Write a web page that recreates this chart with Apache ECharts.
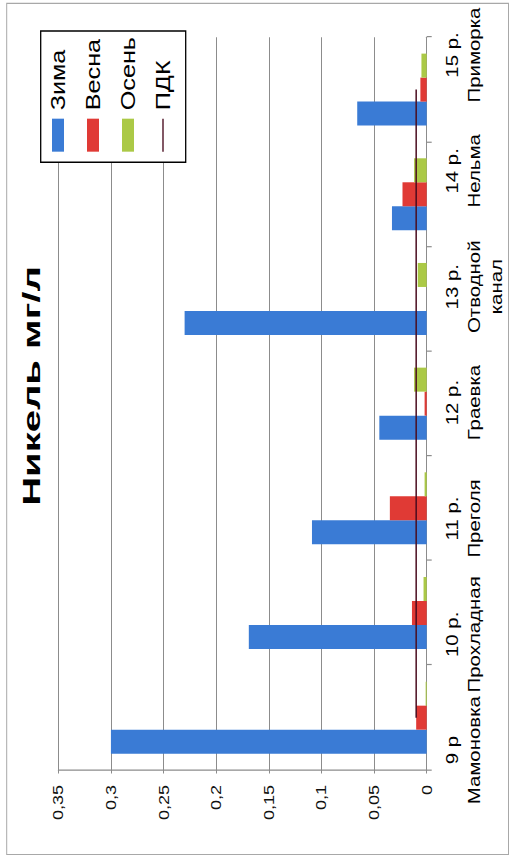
<!DOCTYPE html>
<html>
<head>
<meta charset="utf-8">
<script src="https://cdn.jsdelivr.net/npm/echarts@6/dist/echarts.min.js"></script>
<style>
  html, body { margin: 0; padding: 0; background: #fff; width: 512px; height: 856px; overflow: hidden; }
  /* The chart is laid out landscape, then turned on its side and widened along its own x axis */
  #frame {
    position: absolute; left: 0; top: 0;
    width: 713px; height: 512px;
    transform-origin: 0 0;
    transform: translate(0px, 856px) rotate(-90deg) scaleX(1.2006);
  }
</style>
</head>
<body>
<div id="frame"></div>
<script>
// Sampling stations (two- or three-line axis captions)
const categories = [
  '9 р\nМамоновка',
  '10 р.\nПрохладная',
  '11 р.\nПреголя',
  '12 р.\nГраевка',
  '13 р.\nОтводной\nканал',
  '14 р.\nНельма',
  '15 р.\nПриморка'
];

// Nickel concentration, mg/l
const winter = [0.300, 0.169, 0.109, 0.045, 0.230, 0.033, 0.066];
const spring = [0.010, 0.014, 0.035, 0.002, 0.000, 0.023, 0.006];
const autumn = [0.001, 0.003, 0.002, 0.012, 0.0085, 0.012, 0.005];
const pdk    = [0.01, 0.01, 0.01, 0.01, 0.01, 0.01, 0.01];

const seriesNames = ['Зима', 'Весна', 'Осень', 'ПДК'];
const valueMax = 0.35;
const valueStep = 0.05;

// Horizontal stretch applied by CSS; layout numbers below are given in the stretched frame
const W = 713, H = 512;
const S = 856 / W;
const ux = X => X / S;

const FONT = '"Liberation Sans", Arial, sans-serif';
const GRID_COLOR = '#8c8c8c';
const PDK_COLOR = '#4a0d1f';

const chart = echarts.init(document.getElementById('frame'), null, { renderer: 'svg', width: W, height: H });

const plot = { left: ux(86), right: W - ux(818.7), top: 58.3, bottom: H - 426.7 };
const captions = { left: ux(105.8), right: W - ux(801), top: 58.3, bottom: H - 426.7 };

chart.setOption({
  animation: false,
  backgroundColor: '#fff',
  textStyle: { fontFamily: FONT },
  grid: [
    Object.assign({ containLabel: false }, plot),
    Object.assign({ containLabel: false }, captions)
  ],
  xAxis: [
    {
      type: 'category', gridIndex: 0, data: categories,
      axisLine: { lineStyle: { color: GRID_COLOR, width: 1 } },
      axisTick: { show: true, interval: 0, length: 5, lineStyle: { color: GRID_COLOR } },
      axisLabel: { show: false },
      splitLine: { show: false }
    },
    {
      type: 'category', gridIndex: 1, data: categories, boundaryGap: false,
      axisLine: { show: false },
      axisTick: { show: false },
      splitLine: { show: false },
      axisLabel: {
        interval: 0, margin: 14, color: '#000',
        fontFamily: FONT, fontSize: 17, lineHeight: 22, align: 'center'
      }
    }
  ],
  yAxis: [
    {
      type: 'value', gridIndex: 0, min: 0, max: valueMax, interval: valueStep,
      axisLine: { show: true, lineStyle: { color: GRID_COLOR, width: 1 } },
      axisTick: { show: true, length: 3, lineStyle: { color: GRID_COLOR } },
      splitLine: { show: true, lineStyle: { color: GRID_COLOR, width: 1 } },
      axisLabel: {
        margin: ux(15), color: '#111', fontFamily: FONT, fontSize: 15,
        formatter: v => String(+v.toFixed(2)).replace('.', ',')
      }
    },
    { type: 'value', gridIndex: 1, min: 0, max: valueMax, show: false }
  ],
  legend: {
    orient: 'vertical',
    left: ux(704.3), top: 47.5,
    padding: 0,
    itemWidth: ux(33), itemHeight: 12, itemGap: 14,
    textStyle: { fontFamily: FONT, fontSize: 21, lineHeight: 21, color: '#000', padding: [0, 0, 0, 2] },
    data: [
      { name: seriesNames[0], icon: 'rect' },
      { name: seriesNames[1], icon: 'rect' },
      { name: seriesNames[2], icon: 'rect' },
      // thin bar standing in for the limit line
      { name: seriesNames[3], icon: 'path://M0,0H100V5H0Z' }
    ]
  },
  graphic: [
    {
      type: 'rect', silent: true, z: -10,
      shape: { x: ux(1.5), y: 6.7, width: ux(852.5) - ux(1.5), height: 508.5 - 6.7 },
      style: { fill: 'none', stroke: '#a8a8a8', lineWidth: 1 }
    },
    {
      type: 'rect', silent: true, z: 3,
      shape: { x: ux(693.7), y: 40.7, width: ux(825) - ux(693.7), height: 145 },
      style: { fill: '#fff', stroke: '#000', lineWidth: 1.3 }
    },
    {
      type: 'text', silent: true, z: 5,
      x: ux(470), y: 31.7, scaleX: 1.45,
      style: {
        text: 'Никель мг/л', fill: '#000',
        font: 'bold 23px "Liberation Sans", Arial, sans-serif',
        align: 'center', verticalAlign: 'middle'
      }
    }
  ],
  series: [
    {
      name: seriesNames[0], type: 'bar', xAxisIndex: 0, yAxisIndex: 0,
      data: winter, barWidth: ux(24), barGap: '0%',
      itemStyle: { color: '#3a7bd5' }
    },
    {
      name: seriesNames[1], type: 'bar', xAxisIndex: 0, yAxisIndex: 0,
      data: spring, barWidth: ux(24), barGap: '0%',
      itemStyle: { color: '#e03a35' }
    },
    {
      name: seriesNames[2], type: 'bar', xAxisIndex: 0, yAxisIndex: 0,
      data: autumn, barWidth: ux(24), barGap: '0%',
      itemStyle: { color: '#abc946' }
    },
    {
      name: seriesNames[3], type: 'line', xAxisIndex: 0, yAxisIndex: 0,
      data: pdk, symbol: 'none', z: 3,
      lineStyle: { color: PDK_COLOR, width: 1.5 },
      itemStyle: { color: PDK_COLOR }
    }
  ]
});
</script>
</body>
</html>
